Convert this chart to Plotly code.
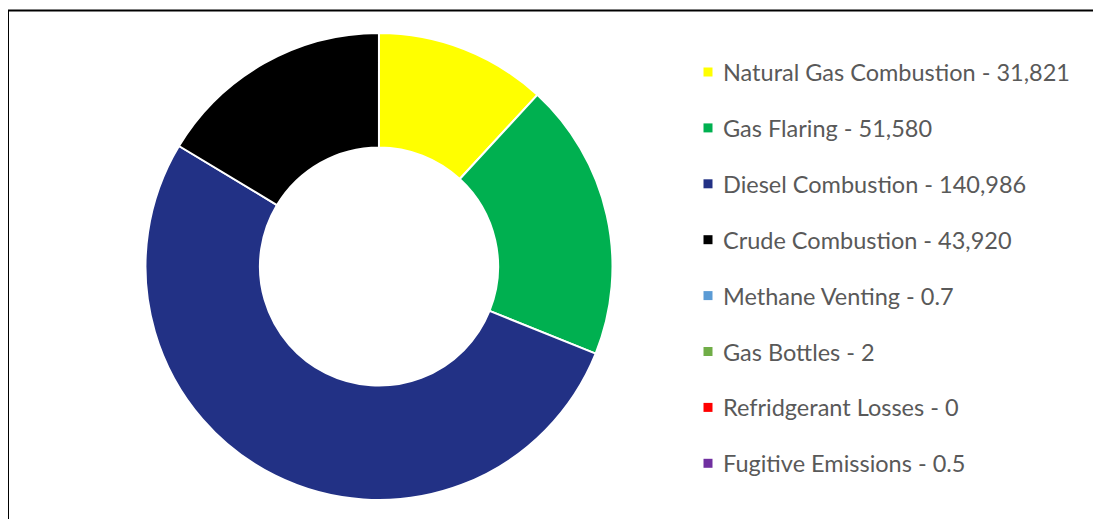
import plotly.graph_objects as go

# page body has an 8px margin; figure fills the rest of the 1101x519 window
OX, OY = 8, 8
W, H = 1101 - OX, 519 - OY

categories = ["Natural Gas Combustion", "Gas Flaring", "Diesel Combustion", "Crude Combustion",
              "Methane Venting", "Gas Bottles", "Refridgerant Losses", "Fugitive Emissions"]
values = [31821, 51580, 140986, 43920, 0.7, 2, 0, 0.5]
value_labels = ["31,821", "51,580", "140,986", "43,920", "0.7", "2", "0", "0.5"]
colors = ["#FFFF00", "#00B050", "#223185", "#000000", "#5B9BD5", "#70AD47", "#FF0000", "#7030A0"]


def px(x):
    return (x - OX) / W


def py(y):
    return 1 - (y - OY) / H


fig = go.Figure()
fig.add_trace(go.Pie(
    labels=categories, values=values, sort=False, direction="clockwise", rotation=0,
    hole=0.51, textinfo="none", hoverinfo="label+value",
    marker=dict(colors=colors, line=dict(color="white", width=2)),
    domain=dict(x=[px(145.5), px(612.5)], y=[py(500), py(33)]),
    showlegend=False,
))

shapes = []
annotations = []
for i, (c, v, col) in enumerate(zip(categories, value_labels, colors)):
    yc = 72 + 55.9 * i
    shapes.append(dict(type="rect", xref="paper", yref="paper",
                       x0=px(703.5), x1=px(712.5), y0=py(yc + 4.5), y1=py(yc - 4.5),
                       fillcolor=col, line=dict(width=0)))
    annotations.append(dict(x=px(721), y=py(yc), xref="paper", yref="paper",
                            text=f"{c} - {v}", showarrow=False, xanchor="left", yanchor="middle",
                            font=dict(family="Lato, Liberation Sans, sans-serif", size=23.5, color="#595959")))

# chart frame
shapes.append(dict(type="rect", xref="paper", yref="paper",
                   x0=px(8), x1=px(1130), y0=py(560), y1=py(10.5),
                   line=dict(color="black", width=2), fillcolor="rgba(0,0,0,0)"))

fig.update_layout(
    width=W, height=H, margin=dict(l=0, r=0, t=0, b=0),
    paper_bgcolor="white", plot_bgcolor="white",
    shapes=shapes, annotations=annotations,
)

fig.write_html("out.html")
